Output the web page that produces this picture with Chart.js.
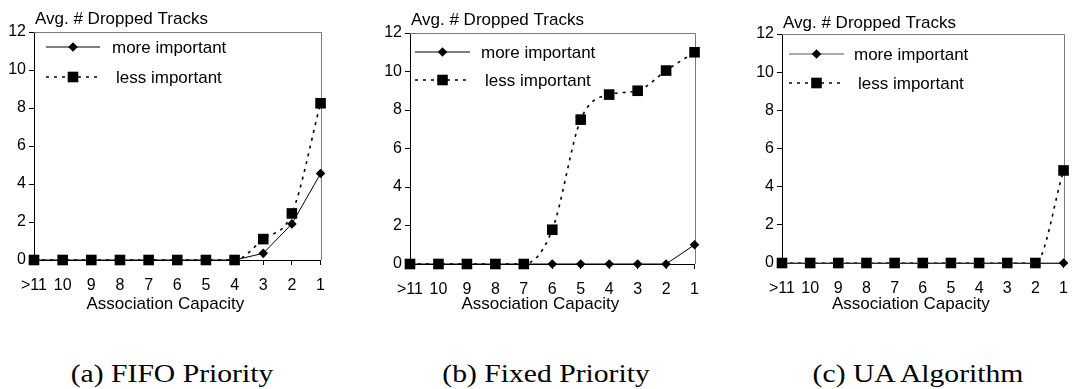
<!DOCTYPE html>
<html>
<head>
<meta charset="utf-8">
<script src="https://cdn.jsdelivr.net/npm/chart.js@4"></script>
<style>
  html, body { margin: 0; padding: 0; background: #fff; overflow: hidden; }
  body { width: 1077px; height: 389px; position: relative; }
  canvas { position: absolute; top: 0; }
  .caption {
    position: absolute; top: 361px; width: 300px; margin-left: -150px;
    text-align: center; font: 26px/26px "Liberation Serif", "Times New Roman", serif;
    color: #000; transform: scaleX(1.14); white-space: nowrap;
  }
</style>
</head>
<body>
<canvas id="chartA"></canvas>
<canvas id="chartB"></canvas>
<canvas id="chartC"></canvas>
<div class="caption" style="left:172px">(a) FIFO Priority</div>
<div class="caption" style="left:546px">(b) Fixed Priority</div>
<div class="caption" style="left:918px">(c) UA Algorithm</div>
<script>
// association capacity categories, left to right
const capacities = ['>11', '10', '9', '8', '7', '6', '5', '4', '3', '2', '1'];
const yTickValues = [0, 2, 4, 6, 8, 10, 12];
const seriesNames = ['more important', 'less important'];

// average number of dropped tracks
const fifoMore  = [0, 0, 0, 0, 0, 0, 0, 0, 0.35, 1.9, 4.55];
const fifoLess  = [0, 0, 0, 0, 0, 0, 0, 0, 1.1, 2.45, 8.25];
const fixedMore = [0, 0, 0, 0, 0, 0, 0, 0, 0, 0, 1.0];
const fixedLess = [0, 0, 0, 0, 0, 1.78, 7.5, 8.8, 9.0, 10.05, 11.0];
const uaMore    = [0, 0, 0, 0, 0, 0, 0, 0, 0, 0, 0];
const uaLess    = [0, 0, 0, 0, 0, 0, 0, 0, 0, 0, 4.85];

const yTitle = 'Avg. # Dropped Tracks';
const xTitle = 'Association Capacity';

const SANS = '"Liberation Sans", Arial, Helvetica, sans-serif';
const CANVAS_H = 330;

Chart.defaults.font.family = SANS;
Chart.defaults.color = '#000';

const panels = [
  { id: 'chartA', more: fifoMore, less: fifoLess, moreColor: '#000',
    area: { left: 34, right: 326, top: 32, bottom: 260 },
    titleDy: -8, legend: { x0: 12, x1: 66, text: 78, rows: [15, 45] } },
  { id: 'chartB', more: fixedMore, less: fixedLess, moreColor: '#000',
    area: { left: 410, right: 700, top: 33, bottom: 264 },
    titleDy: -8, legend: { x0: 5, x1: 60, text: 71, rows: [19, 47] } },
  { id: 'chartC', more: uaMore, less: uaLess, moreColor: '#555',
    area: { left: 782, right: 1069, top: 34, bottom: 263 },
    titleDy: -6, legend: { x0: 7, x1: 62, text: 72, rows: [20, 49] } }
];

function drawMarker(ctx, style, r, x, y) {
  ctx.beginPath();
  if (style === 'rect') {
    const h = r * Math.SQRT1_2;
    ctx.rect(x - h, y - h, 2 * h, 2 * h);
  } else {
    ctx.moveTo(x - r, y);
    ctx.lineTo(x, y - r);
    ctx.lineTo(x + r, y);
    ctx.lineTo(x, y + r);
    ctx.closePath();
  }
  ctx.fill();
}

// box frame, y title, x title and the in-plot legend
const panelDecor = {
  id: 'panelDecor',
  beforeDatasetsDraw(chart) {
    const { ctx, chartArea: a } = chart;
    ctx.save();
    ctx.strokeStyle = '#7a7a7a';
    ctx.lineWidth = 1;
    ctx.beginPath();
    ctx.moveTo(a.left, Math.round(a.top) + 0.5);
    ctx.lineTo(Math.round(a.right) + 0.5, Math.round(a.top) + 0.5);
    ctx.lineTo(Math.round(a.right) + 0.5, a.bottom);
    ctx.stroke();
    ctx.restore();
  },
  afterDraw(chart, args, opts) {
    const { ctx, chartArea: a } = chart;
    ctx.save();
    ctx.fillStyle = '#000';
    ctx.font = '17px ' + SANS;
    ctx.textBaseline = 'alphabetic';
    ctx.textAlign = 'left';
    ctx.fillText(yTitle, a.left + 1, a.top + opts.titleDy);

    ctx.textAlign = 'center';
    ctx.fillText(xTitle, (a.left + a.right) / 2 - 12, 309);

    // legend
    const lg = opts.legend;
    chart.data.datasets.forEach((ds, i) => {
      const y = a.top + lg.rows[i];
      const x0 = a.left + lg.x0, x1 = a.left + lg.x1;
      ctx.save();
      ctx.strokeStyle = ds.borderColor;
      ctx.lineWidth = ds.borderWidth;
      ctx.setLineDash(ds.borderDash || []);
      ctx.beginPath();
      ctx.moveTo(x0, y);
      ctx.lineTo(x1, y);
      ctx.stroke();
      ctx.restore();
      ctx.fillStyle = ds.pointBackgroundColor;
      drawMarker(ctx, ds.pointStyle, ds.pointRadius, (x0 + x1) / 2, y);
      ctx.fillStyle = '#000';
      ctx.textAlign = 'left';
      ctx.textBaseline = 'middle';
      ctx.fillText(ds.label, a.left + lg.text + (i === 1 ? 4 : 0), y + 1);
    });
    ctx.restore();
  }
};

panels.forEach(p => {
  const canvas = document.getElementById(p.id);
  const yAxisW = 40, padRight = 10;
  const w = p.area.right - p.area.left + yAxisW + padRight;
  canvas.width = w;
  canvas.height = CANVAS_H;
  canvas.style.left = (p.area.left - yAxisW) + 'px';
  canvas.style.width = w + 'px';
  canvas.style.height = CANVAS_H + 'px';

  new Chart(canvas, {
    type: 'line',
    data: {
      labels: capacities,
      datasets: [
        {
          label: seriesNames[0],
          data: p.more,
          borderColor: p.moreColor,
          borderWidth: 1,
          tension: 0,
          pointStyle: 'rectRot',
          pointRadius: 4.8,
          pointBackgroundColor: '#000',
          pointBorderWidth: 0,
          clip: false
        },
        {
          label: seriesNames[1],
          data: p.less,
          borderColor: '#000',
          borderWidth: 1.6,
          borderDash: [3, 5],
          cubicInterpolationMode: 'monotone',
          pointStyle: 'rect',
          pointRadius: 7.5,
          pointBackgroundColor: '#000',
          pointBorderWidth: 0,
          clip: false
        }
      ]
    },
    options: {
      responsive: false,
      animation: false,
      devicePixelRatio: 1,
      layout: { padding: { top: p.area.top, right: padRight, bottom: 0, left: 0 } },
      plugins: {
        legend: { display: false },
        tooltip: { enabled: false },
        panelDecor: { titleDy: p.titleDy, legend: p.legend }
      },
      scales: {
        x: {
          offset: false,
          afterFit: s => { s.height = CANVAS_H - p.area.bottom; },
          grid: { drawOnChartArea: false, color: '#000', tickLength: 5 },
          border: { color: '#000', width: 1 },
          ticks: { font: { size: 16 }, padding: 11, maxRotation: 0, autoSkip: false }
        },
        y: {
          min: 0,
          max: 12,
          afterFit: s => { s.width = yAxisW; },
          afterBuildTicks: s => { s.ticks = yTickValues.map(v => ({ value: v })); },
          grid: { drawOnChartArea: false, color: '#000', tickLength: 5 },
          border: { color: '#000', width: 1 },
          ticks: { font: { size: 16 }, padding: 3 }
        }
      }
    },
    plugins: [panelDecor]
  });
});
</script>
</body>
</html>
